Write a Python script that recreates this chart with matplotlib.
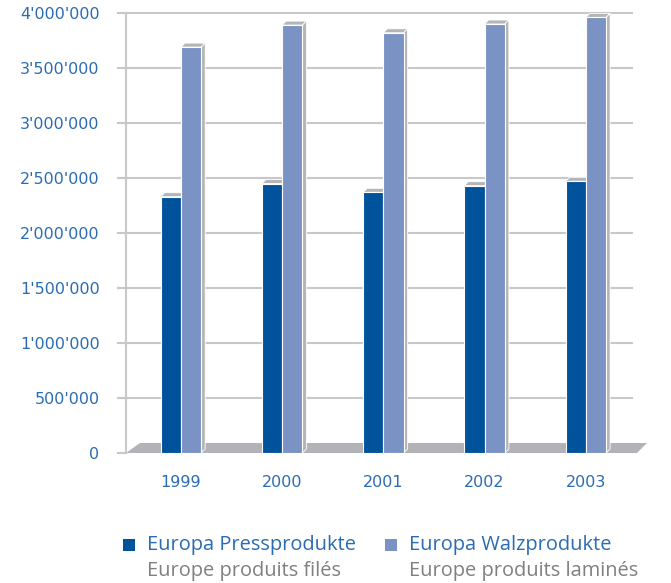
import matplotlib.pyplot as plt
from matplotlib.patches import Polygon, Rectangle

years = ['1999', '2000', '2001', '2002', '2003']
press = [2330000, 2450000, 2370000, 2430000, 2470000]
walz = [3690000, 3890000, 3820000, 3900000, 3960000]
yticks = [0, 500000, 1000000, 1500000, 2000000, 2500000, 3000000, 3500000, 4000000]

dark = '#00529b'
light = '#7b93c4'
side = '#b4b5b8'
blue_txt = '#2a6cb3'

fig = plt.figure(figsize=(6.71, 5.83), dpi=100)
W, H = 671, 583
ax = fig.add_axes([126 / W, 1 - 453 / H, (632 - 126) / W, (453 - 13) / H])

ax.set_ylim(0, 4000000)
ax.set_xlim(-0.543, 4.456)

# pixel -> data scale for the 3d offsets
px_x = 4.999 / 506
px_y = 4000000 / 440

# floor
floor = Polygon([(-0.543, 0), (-0.543 + 511 * px_x, 0),
                 (-0.543 + 521 * px_x, 10 * px_y), (-0.543 + 14 * px_x, 10 * px_y)],
                closed=True, facecolor='#b2b3b6', edgecolor='none', clip_on=False, zorder=1)
ax.add_patch(floor)

# gridlines
for t in yticks[1:]:
    ax.plot([-0.543 - 8 * px_x, 4.456], [t, t], color='#c8c8c8', lw=1.5, clip_on=False, zorder=0.5)
ax.plot([-0.543 - 8 * px_x, -0.543], [0, 0], color='#c8c8c8', lw=1.5, clip_on=False, zorder=0.5)

bw = 0.2
dx = 4 * px_x
dy = 4 * px_y
for i in range(len(years)):
    for x0, v, c in [(i - bw, press[i], dark), (i, walz[i], light)]:
        # top face
        ax.add_patch(Polygon([(x0, v), (x0 + bw, v), (x0 + bw + dx, v + dy), (x0 + dx, v + dy)],
                             closed=True, facecolor=side, edgecolor='white', lw=0.6, zorder=2))
        ax.add_patch(Rectangle((x0, 0), bw, v, facecolor=c, edgecolor='white', lw=0.8, zorder=3))
    # side face of the light bar
    x1 = i + bw
    ax.add_patch(Polygon([(x1, 0), (x1 + dx, dy), (x1 + dx, walz[i] + dy), (x1, walz[i])],
                         closed=True, facecolor=side, edgecolor='white', lw=0.6, zorder=2))

ax.set_yticks(yticks)
ax.set_yticklabels([format(t, ',').replace(',', "'") for t in yticks])
ax.set_xticks(range(len(years)))
ax.set_xticklabels(years)
ax.tick_params(axis='y', length=0, pad=19, labelsize=11.5, labelcolor=blue_txt)
ax.tick_params(axis='x', length=0, pad=16, labelsize=11.5, labelcolor=blue_txt)
for s in ['top', 'right', 'bottom']:
    ax.spines[s].set_visible(False)
ax.spines['left'].set_color('#c8c8c8')
ax.spines['left'].set_linewidth(1.5)

# legend
fig.patches.append(Rectangle((123 / W, 1 - 551 / H), 12 / W, 12 / H, transform=fig.transFigure,
                             facecolor=dark, edgecolor='none'))
fig.patches.append(Rectangle((385 / W, 1 - 551 / H), 12 / W, 12 / H, transform=fig.transFigure,
                             facecolor=light, edgecolor='none'))
fig.text(147 / W, 1 - 545 / H, 'Europa Pressprodukte', color=blue_txt, fontsize=14.4,
         family='Open Sans', va='center')
fig.text(147 / W, 1 - 571 / H, 'Europe produits filés', color='#808080', fontsize=14.4,
         family='Open Sans', va='center')
fig.text(409 / W, 1 - 545 / H, 'Europa Walzprodukte', color=blue_txt, fontsize=14.4,
         family='Open Sans', va='center')
fig.text(409 / W, 1 - 571 / H, 'Europe produits laminés', color='#808080', fontsize=14.4,
         family='Open Sans', va='center')

plt.savefig('out.png', dpi=100)
